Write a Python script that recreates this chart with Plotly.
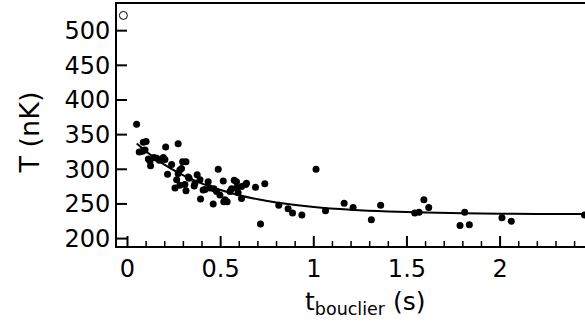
import plotly.graph_objects as go

# measured data (t in s, T in nK)
t_data = [0.049, 0.063, 0.081, 0.085, 0.100, 0.094, 0.112, 0.121, 0.124, 0.142,
          0.157, 0.171, 0.192, 0.201, 0.205, 0.215, 0.237, 0.255, 0.264, 0.272,
          0.272, 0.281, 0.281, 0.296, 0.314, 0.290, 0.308, 0.314, 0.326, 0.331,
          0.358, 0.362, 0.374, 0.389, 0.392, 0.406, 0.416, 0.433, 0.442, 0.460,
          0.464, 0.478, 0.487, 0.496, 0.514, 0.517, 0.523, 0.535, 0.550, 0.559,
          0.573, 0.585, 0.585, 0.594, 0.612, 0.612, 0.634, 0.639, 0.687, 0.714,
          0.737, 0.812, 0.862, 0.886, 0.936, 1.012, 1.063, 1.163, 1.211, 1.309,
          1.359, 1.542, 1.565, 1.591, 1.617, 1.785, 1.810, 1.835, 2.010, 2.060,
          2.453]
T_data = [365, 325, 326, 339, 340, 328, 315, 312, 305, 317,
          316, 313, 317, 314, 332, 293, 307, 273, 285, 337,
          294, 299, 277, 311, 311, 301, 278, 269, 289, 287,
          276, 280, 292, 285, 257, 270, 271, 282, 273, 250,
          272, 268, 300, 263, 283, 253, 256, 253, 268, 272,
          284, 282, 273, 266, 258, 275, 278, 280, 274, 221,
          279, 248, 243, 237, 234, 300, 240, 251, 245, 227,
          248, 237, 238, 256, 245, 219, 238, 220, 230, 225,
          234]

# open-circle point
t_open = [-0.022]
T_open = [522]

# fitted curve
t_fit = [0.05, 0.1, 0.2, 0.3, 0.4, 0.5, 0.6, 0.7, 0.8, 1.0, 1.2, 1.4, 1.6, 1.8, 2.0, 2.2, 2.46]
T_fit = [337.1, 325.6, 306.4, 291.3, 279.4, 270.0, 262.6, 256.7, 252.1, 245.6, 241.6,
         239.1, 237.6, 236.6, 236.0, 235.6, 235.3]

x_tickvals = [0, 0.5, 1, 1.5, 2]
x_ticktext = ["0", "0.5", "1", "1.5", "2"]
x_minor_ticks = [0.1, 0.2, 0.3, 0.4, 0.6, 0.7, 0.8, 0.9, 1.1, 1.2, 1.3, 1.4,
                 1.6, 1.7, 1.8, 1.9, 2.1, 2.2, 2.3, 2.4]
y_tickvals = [200, 250, 300, 350, 400, 450, 500]

FONT = "DejaVu Sans"
X_RANGE = [-0.0563, 2.4558]
Y_RANGE = [189.3, 538.5]
PLOT_W = 468
PLOT_H = 242
MAJOR_LEN = 10
MINOR_LEN = 5

# tick-length conversions (pixels -> data units)
dx_px = (X_RANGE[1] - X_RANGE[0]) / PLOT_W
dy_px = (Y_RANGE[1] - Y_RANGE[0]) / PLOT_H

fig = go.Figure()
fig.add_trace(go.Scatter(x=t_fit, y=T_fit, mode="lines", line=dict(color="black", width=2, shape="spline"),
                         showlegend=False, hoverinfo="skip"))
fig.add_trace(go.Scatter(x=t_data, y=T_data, mode="markers",
                         marker=dict(color="black", size=7, line=dict(width=0)), showlegend=False))
fig.add_trace(go.Scatter(x=t_open, y=T_open, mode="markers",
                         marker=dict(color="white", size=8, symbol="circle", line=dict(color="black", width=1)),
                         showlegend=False))

# inward tick marks drawn through the axes' scales
def tick_segments(vals, length_px, vertical):
    xs, ys = [], []
    for v in vals:
        if vertical:
            xs += [v, v, None]
            ys += [Y_RANGE[0], Y_RANGE[0] + length_px * dy_px, None]
        else:
            xs += [X_RANGE[0], X_RANGE[0] + length_px * dx_px, None]
            ys += [v, v, None]
    return xs, ys

mx, my = tick_segments(x_tickvals, MAJOR_LEN, True)
nx, ny = tick_segments(x_minor_ticks, MINOR_LEN, True)
yx, yy = tick_segments(y_tickvals, MAJOR_LEN, False)
fig.add_trace(go.Scatter(x=mx + yx, y=my + yy, mode="lines", line=dict(color="black", width=2),
                         showlegend=False, hoverinfo="skip"))
fig.add_trace(go.Scatter(x=nx, y=ny, mode="lines", line=dict(color="black", width=1.5),
                         showlegend=False, hoverinfo="skip"))

fig.update_layout(
    width=585, height=326,
    margin=dict(l=117, r=0, t=4, b=80, autoexpand=False),
    paper_bgcolor="white", plot_bgcolor="white",
    font=dict(family=FONT, color="black"),
    xaxis=dict(range=X_RANGE, showgrid=False, zeroline=False, automargin=False,
               showline=True, linecolor="black", linewidth=2, mirror=True,
               ticks="", tickmode="array", tickvals=x_tickvals, ticktext=x_ticktext,
               tickfont=dict(family=FONT, size=24, color="black")),
    yaxis=dict(range=Y_RANGE, showgrid=False, zeroline=False, automargin=False,
               showline=True, linecolor="black", linewidth=2, mirror=False,
               ticks="", tickmode="array", tickvals=y_tickvals,
               tickfont=dict(family=FONT, size=24, color="black")),
    annotations=[
        dict(text="T (nK)", xref="paper", yref="paper", x=-0.188, y=0.469,
             xanchor="center", yanchor="middle", textangle=-90, showarrow=False,
             font=dict(family=FONT, size=27, color="black")),
        dict(text="t<sub>bouclier</sub> (s)", xref="paper", yref="paper", x=0.53, y=(246 - 303) / 242,
             xanchor="center", yanchor="middle", showarrow=False,
             font=dict(family=FONT, size=25, color="black")),
    ],
)

fig.write_html("out.html", config={"displayModeBar": False},
               post_script="document.body.style.margin='0';document.body.style.padding='0';")
